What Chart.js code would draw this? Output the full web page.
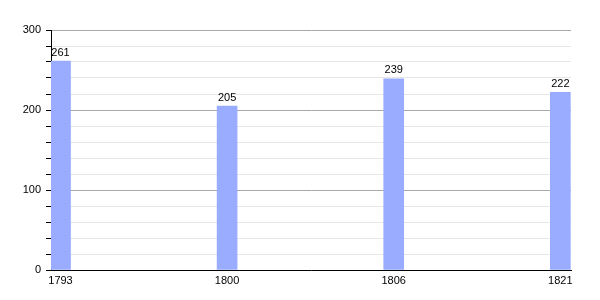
<!DOCTYPE html>
<html>
<head>
<meta charset="utf-8">
<script src="https://cdn.jsdelivr.net/npm/chart.js@4/dist/chart.umd.min.js"></script>
<style>
  html, body { margin: 0; padding: 0; background: #fff; }
  #wrap { width: 600px; height: 300px; }
</style>
</head>
<body>
<div id="wrap"><canvas id="popChart" width="600" height="300"></canvas></div>
<script>
// population per census year
const years = ['1793', '1800', '1806', '1821'];
const population = [261, 205, 239, 222];
const yTicks = [0, 100, 200, 300];

const points = population.map((v, i) => ({ x: i, y: v }));

// write the value above each bar
const valueLabels = {
    id: 'valueLabels',
    afterDatasetsDraw(chart) {
        const ctx = chart.ctx;
        const meta = chart.getDatasetMeta(0);
        ctx.save();
        ctx.font = '11px "Liberation Sans", Arial, sans-serif';
        ctx.fillStyle = '#000';
        ctx.textAlign = 'center';
        ctx.textBaseline = 'bottom';
        meta.data.forEach((bar, i) => {
            ctx.fillText(String(population[i]), bar.x, bar.y - 3);
        });
        ctx.restore();
    }
};

Chart.defaults.font.family = '"Liberation Sans", Arial, sans-serif';
Chart.defaults.font.size = 11;
Chart.defaults.color = '#000';

var ctx = document.getElementById('popChart').getContext('2d');
new Chart(ctx, {
    type: 'bar',
    data: {
        datasets: [{
            data: points,
            backgroundColor: 'rgb(153, 172, 255)',
            borderWidth: 0,
            barThickness: 20
        }]
    },
    options: {
        responsive: false,
        animation: false,
        layout: { padding: { top: 30, right: 29, left: 0, bottom: 0 } },
        plugins: {
            legend: { display: false },
            tooltip: { enabled: false }
        },
        scales: {
            x: {
                type: 'linear',
                offset: false,
                min: -0.057,
                max: 3.064,
                afterBuildTicks: (scale) => {
                    scale.ticks = years.map((y, i) => ({ value: i }));
                },
                ticks: {
                    callback: (v) => years[v],
                    padding: 4,
                    maxRotation: 0,
                    autoSkip: false
                },
                grid: { display: false, drawTicks: false },
                border: { color: '#000', width: 1 },
                afterFit: (scale) => { scale.height = 30; }
            },
            y: {
                min: 0,
                max: 300,
                ticks: {
                    stepSize: 20,
                    padding: 5,
                    autoSkip: false,
                    callback: (v) => yTicks.includes(v) ? v : ''
                },
                grid: {
                    color: (c) => (c.tick && c.tick.value % 100 === 0) ? '#a8a8a8' : '#e6e6e6',
                    tickColor: '#000',
                    tickLength: 5
                },
                border: { color: '#000', width: 1 },
                afterFit: (scale) => { scale.width = 51; }
            }
        }
    },
    plugins: [valueLabels]
});
</script>
</body>
</html>
